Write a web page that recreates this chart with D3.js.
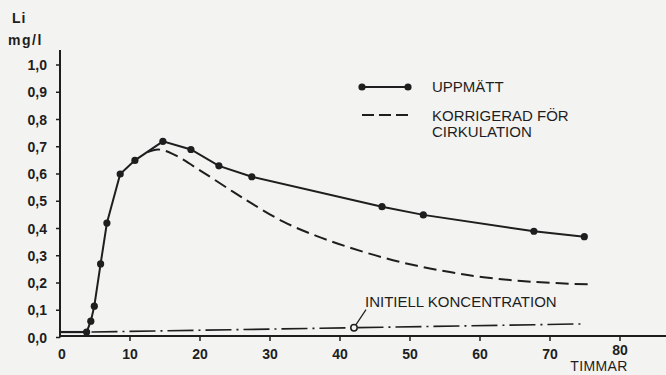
<!DOCTYPE html>
<html>
<head>
<meta charset="utf-8">
<script src="https://cdn.jsdelivr.net/npm/d3@7"></script>
<style>
  html, body { margin: 0; padding: 0; background: #f3f3f1; }
  svg { display: block; }
  text { font-family: "Liberation Sans", Arial, Helvetica, sans-serif; fill: #1e1e1e; }
</style>
</head>
<body>
<svg id="chart" width="666" height="375"></svg>
<script>
// Lithium concentration (mg/l) over time (hours)
const measuredHours = [3.8, 4.4, 4.9, 5.8, 6.7, 8.6, 10.7, 14.7, 18.7, 22.7, 27.4, 46, 51.9, 67.7, 74.9];
const measuredValues = [0.02, 0.06, 0.115, 0.27, 0.42, 0.60, 0.65, 0.72, 0.69, 0.63, 0.59, 0.48, 0.45, 0.39, 0.37];
const baselineHours = [0, 3.8];
const baselineValues = [0.02, 0.02];

const correctedHours = [12.5, 14, 16, 20.5, 24.7, 27.5, 31.9, 36.7, 41.4, 46.2, 51, 55.7, 60.5, 67.6, 75.4];
const correctedValues = [0.68, 0.69, 0.675, 0.605, 0.535, 0.49, 0.425, 0.372, 0.33, 0.293, 0.263, 0.24, 0.221, 0.204, 0.195];

const initialHours = [4.5, 75];
const initialValues = [0.02, 0.05];
const initialMarkerHour = 42;

const xTicks = [0, 10, 20, 30, 40, 50, 60, 70, 80];
const yTicks = [0, 0.1, 0.2, 0.3, 0.4, 0.5, 0.6, 0.7, 0.8, 0.9, 1.0];

const legendLabels = ["UPPMÄTT", "KORRIGERAD FÖR", "CIRKULATION"];
const initialLabel = "INITIELL KONCENTRATION";
const xUnit = "TIMMAR";
const yTitle = ["Li", "mg/l"];

const ink = "#1e1e1e";
const svg = d3.select("#chart");

const x = d3.scaleLinear().domain([0, 80]).range([60, 620]);
const y = d3.scaleLinear().domain([0, 1]).range([337.5, 65]);

const fmt = v => d3.format(".1f")(v).replace(".", ",");
const zip = (a, b) => a.map((d, i) => [d, b[i]]);

// Axes
const yAxis = svg.append("g").attr("transform", `translate(${x(0)},0)`);
yAxis.append("line").attr("x1", 0).attr("x2", 0).attr("y1", 50).attr("y2", y(0))
  .attr("stroke", ink).attr("stroke-width", 2);
yAxis.selectAll("line.tick").data(yTicks).join("line").attr("class", "tick")
  .attr("x1", -4).attr("x2", 0).attr("y1", d => y(d)).attr("y2", d => y(d))
  .attr("stroke", ink).attr("stroke-width", 1.5);
yAxis.selectAll("text").data(yTicks).join("text")
  .attr("x", -13).attr("y", d => y(d) + 5)
  .attr("text-anchor", "end").attr("font-size", 14).attr("font-weight", "bold")
  .text(fmt);

const xAxis = svg.append("g").attr("transform", `translate(0,${y(0) - 1.5})`);
xAxis.append("line").attr("x1", x(0)).attr("x2", 666).attr("y1", 0).attr("y2", 0)
  .attr("stroke", ink).attr("stroke-width", 2);
xAxis.selectAll("line.tick").data(xTicks.filter(d => d > 0)).join("line").attr("class", "tick")
  .attr("x1", d => x(d)).attr("x2", d => x(d)).attr("y1", 0).attr("y2", 5)
  .attr("stroke", ink).attr("stroke-width", 1.5);
xAxis.selectAll("text").data(xTicks).join("text")
  .attr("x", d => x(d) + (d === 0 ? 2 : 0)).attr("y", d => d === 80 ? 19 : 23)
  .attr("text-anchor", "middle").attr("font-size", 14).attr("font-weight", "bold")
  .text(d => d);

svg.append("text").attr("x", 599).attr("y", 371).attr("font-size", 14)
  .attr("text-anchor", "middle").attr("letter-spacing", 0.4).text(xUnit);

svg.append("text").attr("x", 12).attr("y", 23).attr("font-size", 14).attr("font-weight", "bold")
  .attr("letter-spacing", 1).text(yTitle[0]);
svg.append("text").attr("x", 8).attr("y", 45).attr("font-size", 14).attr("font-weight", "bold")
  .attr("letter-spacing", 1.5).text(yTitle[1]);

const line = d3.line().x(d => x(d[0])).y(d => y(d[1]));
const smooth = d3.line().x(d => x(d[0])).y(d => y(d[1])).curve(d3.curveCatmullRom.alpha(0.5));

// Initial concentration (dash-dot)
const initPts = zip(initialHours, initialValues);
svg.append("path").attr("d", line(initPts)).attr("fill", "none")
  .attr("stroke", ink).attr("stroke-width", 1.6).attr("stroke-dasharray", "26,5,2,5");
const initAt = d3.scaleLinear().domain(initialHours).range(initialValues);
const mx = x(initialMarkerHour), my = y(initAt(initialMarkerHour));
svg.append("line").attr("x1", mx + 2).attr("y1", my - 3).attr("x2", mx + 12).attr("y2", my - 18)
  .attr("stroke", ink).attr("stroke-width", 1.2);
svg.append("circle").attr("cx", mx).attr("cy", my).attr("r", 3.2)
  .attr("fill", "#f3f3f1").attr("stroke", ink).attr("stroke-width", 1.5);
svg.append("text").attr("x", 365).attr("y", 307).attr("font-size", 15).text(initialLabel);

// Corrected for circulation (dashed)
svg.append("path").attr("d", smooth(zip(correctedHours, correctedValues))).attr("fill", "none")
  .attr("stroke", ink).attr("stroke-width", 2).attr("stroke-dasharray", "13,6");

// Measured (solid with dots)
svg.append("path").attr("d", line(zip(baselineHours, baselineValues))).attr("fill", "none")
  .attr("stroke", ink).attr("stroke-width", 2.2);
const meas = zip(measuredHours, measuredValues);
svg.append("path").attr("d", line(meas)).attr("fill", "none")
  .attr("stroke", ink).attr("stroke-width", 2);
svg.selectAll("circle.pt").data(meas).join("circle").attr("class", "pt")
  .attr("cx", d => x(d[0])).attr("cy", d => y(d[1])).attr("r", 3.6).attr("fill", ink);

// Legend
const lg = svg.append("g");
lg.append("line").attr("x1", 362).attr("x2", 408).attr("y1", 87).attr("y2", 87)
  .attr("stroke", ink).attr("stroke-width", 2);
lg.selectAll("circle").data([362, 408]).join("circle")
  .attr("cx", d => d).attr("cy", 87).attr("r", 3.6).attr("fill", ink);
lg.append("text").attr("x", 432).attr("y", 92).attr("font-size", 15).text(legendLabels[0]);
lg.append("line").attr("x1", 362).attr("x2", 408).attr("y1", 115).attr("y2", 115)
  .attr("stroke", ink).attr("stroke-width", 1.8).attr("stroke-dasharray", "12,5");
lg.append("text").attr("x", 432).attr("y", 121).attr("font-size", 15).text(legendLabels[1]);
lg.append("text").attr("x", 432).attr("y", 137).attr("font-size", 15).text(legendLabels[2]);
</script>
</body>
</html>
